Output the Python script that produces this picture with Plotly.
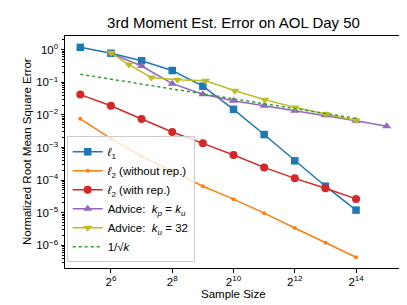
import plotly.graph_objects as go

# ---- data ----
k_pow2 = [32, 64, 128, 256, 512, 1024, 2048, 4096, 8192, 16384]
l1_err = [1.18, 0.78, 0.46, 0.23, 0.076, 0.0148, 0.0025, 3.9e-4, 6.5e-5, 1.2e-5]
l2_norep_err = [7.6e-3, 1.87e-3, 5.4e-4, 1.9e-4, 6.5e-5, 2.6e-5, 9.7e-6, 3.4e-6, 1.2e-6, 4.3e-7]
l2_rep_err = [0.042, 0.019, 0.0075, 0.0030, 0.00134, 5.9e-4, 2.45e-4, 1.13e-4, 5.6e-5, 2.65e-5]

k_adv_eq = [64, 128, 256, 512, 1024, 2048, 4096, 8192, 16384, 32768]
adv_eq_err = [0.78, 0.316, 0.091, 0.043, 0.027, 0.019, 0.0135, 0.0097, 0.0066, 0.0045]

k_adv_32 = [64, 96, 160, 288, 544, 1056, 2080, 4128, 8224, 16416]
adv_32_err = [0.80, 0.35, 0.14, 0.12, 0.112, 0.055, 0.029, 0.017, 0.0107, 0.0068]

k_ref = [32, 64, 128, 256, 512, 1024, 2048, 4096, 8192, 16384]
ref_err = [0.1768, 0.125, 0.0884, 0.0625, 0.0442, 0.03125, 0.0221, 0.0156, 0.0110, 0.0078]

x_tick_vals = [64, 256, 1024, 4096, 16384]
x_tick_text = ["2<sup>6</sup>", "2<sup>8</sup>", "2<sup>10</sup>", "2<sup>12</sup>", "2<sup>14</sup>"]
y_tick_vals = [1, 1e-1, 1e-2, 1e-3, 1e-4, 1e-5, 1e-6]
y_tick_text = ["10<sup>0</sup>", "10<sup>−1</sup>", "10<sup>−2</sup>", "10<sup>−3</sup>",
               "10<sup>−4</sup>", "10<sup>−5</sup>", "10<sup>−6</sup>"]
y_minor_vals = [m * 10.0 ** e for e in range(-7, 1) for m in range(2, 10)]

FONT = "Liberation Sans"

fig = go.Figure()
fig.add_trace(go.Scatter(x=k_pow2, y=l1_err, mode="lines+markers", name="<i>ℓ</i><sub>1</sub>",
                         line=dict(color="#1f77b4", width=1.5),
                         marker=dict(symbol="square", size=7.5, color="#1f77b4")))
fig.add_trace(go.Scatter(x=k_pow2, y=l2_norep_err, mode="lines+markers", name="<i>ℓ</i><sub>2</sub> (without rep.)",
                         line=dict(color="#ff7f0e", width=1.5),
                         marker=dict(symbol="circle", size=4, color="#ff7f0e")))
fig.add_trace(go.Scatter(x=k_pow2, y=l2_rep_err, mode="lines+markers", name="<i>ℓ</i><sub>2</sub> (with rep.)",
                         line=dict(color="#d62728", width=1.5),
                         marker=dict(symbol="circle", size=8, color="#d62728")))
fig.add_trace(go.Scatter(x=k_adv_eq, y=adv_eq_err, mode="lines+markers",
                         name="Advice:  <i>k<sub>p</sub></i> = <i>k<sub>u</sub></i>",
                         line=dict(color="#9467bd", width=1.5),
                         marker=dict(symbol="triangle-up", size=8, color="#9467bd")))
fig.add_trace(go.Scatter(x=k_adv_32, y=adv_32_err, mode="lines+markers",
                         name="Advice:  <i>k<sub>u</sub></i> = 32",
                         line=dict(color="#bcbd22", width=1.5),
                         marker=dict(symbol="triangle-down", size=8, color="#bcbd22")))
fig.add_trace(go.Scatter(x=k_ref, y=ref_err, mode="lines", name="1/√<i>k</i>",
                         line=dict(color="#2ca02c", width=1.5, dash="dot")))

fig.update_layout(
    width=407, height=305,
    margin=dict(l=57, r=13, t=28, b=45),
    paper_bgcolor="white", plot_bgcolor="white",
    font=dict(family=FONT, size=11, color="black"),
    title=dict(text="3rd Moment Est. Error on AOL Day 50", x=0.5, xref="paper", xanchor="center",
               y=1 - 15 / 305, yref="container", yanchor="middle",
               font=dict(family=FONT, size=15, color="black")),
    legend=dict(x=0.005, y=0.025, xanchor="left", yanchor="bottom",
                bgcolor="rgba(255,255,255,0.8)", bordercolor="#cccccc", borderwidth=1,
                font=dict(family=FONT, size=11.5), tracegroupgap=0, itemwidth=30),
    showlegend=True,
    annotations=[
        dict(text="Sample Size", xref="paper", yref="paper", x=0.5, y=(260 - 286) / 232,
             xanchor="center", yanchor="middle", showarrow=False, font=dict(family=FONT, size=11.5)),
        dict(text="Normalized Root Mean Square Error", xref="paper", yref="paper",
             x=(19 - 57) / 337, y=0.5, xanchor="center", yanchor="middle", textangle=-90,
             showarrow=False, font=dict(family=FONT, size=11.5)),
    ],
)
fig.update_xaxes(type="log", range=[4.5 * 0.30103, 15.5 * 0.30103],
                 tickmode="array", tickvals=x_tick_vals, ticktext=x_tick_text,
                 ticks="outside", ticklen=3.5, tickwidth=0.8, tickcolor="black",
                 tickfont=dict(family=FONT, size=11.5),
                 showline=True, linecolor="black", linewidth=1, mirror=True, showgrid=False, zeroline=False)
fig.update_yaxes(type="log", range=[-6.696, 0.42],
                 tickmode="array", tickvals=y_tick_vals, ticktext=y_tick_text,
                 ticks="outside", ticklen=3.5, tickwidth=0.8, tickcolor="black",
                 tickfont=dict(family=FONT, size=11.5),
                 minor=dict(tickmode="array", tickvals=y_minor_vals, ticks="outside", ticklen=2,
                            tickwidth=0.6, tickcolor="black", showgrid=False),
                 showline=True, linecolor="black", linewidth=1, mirror=True, showgrid=False, zeroline=False)

fig.write_html("out.html")
